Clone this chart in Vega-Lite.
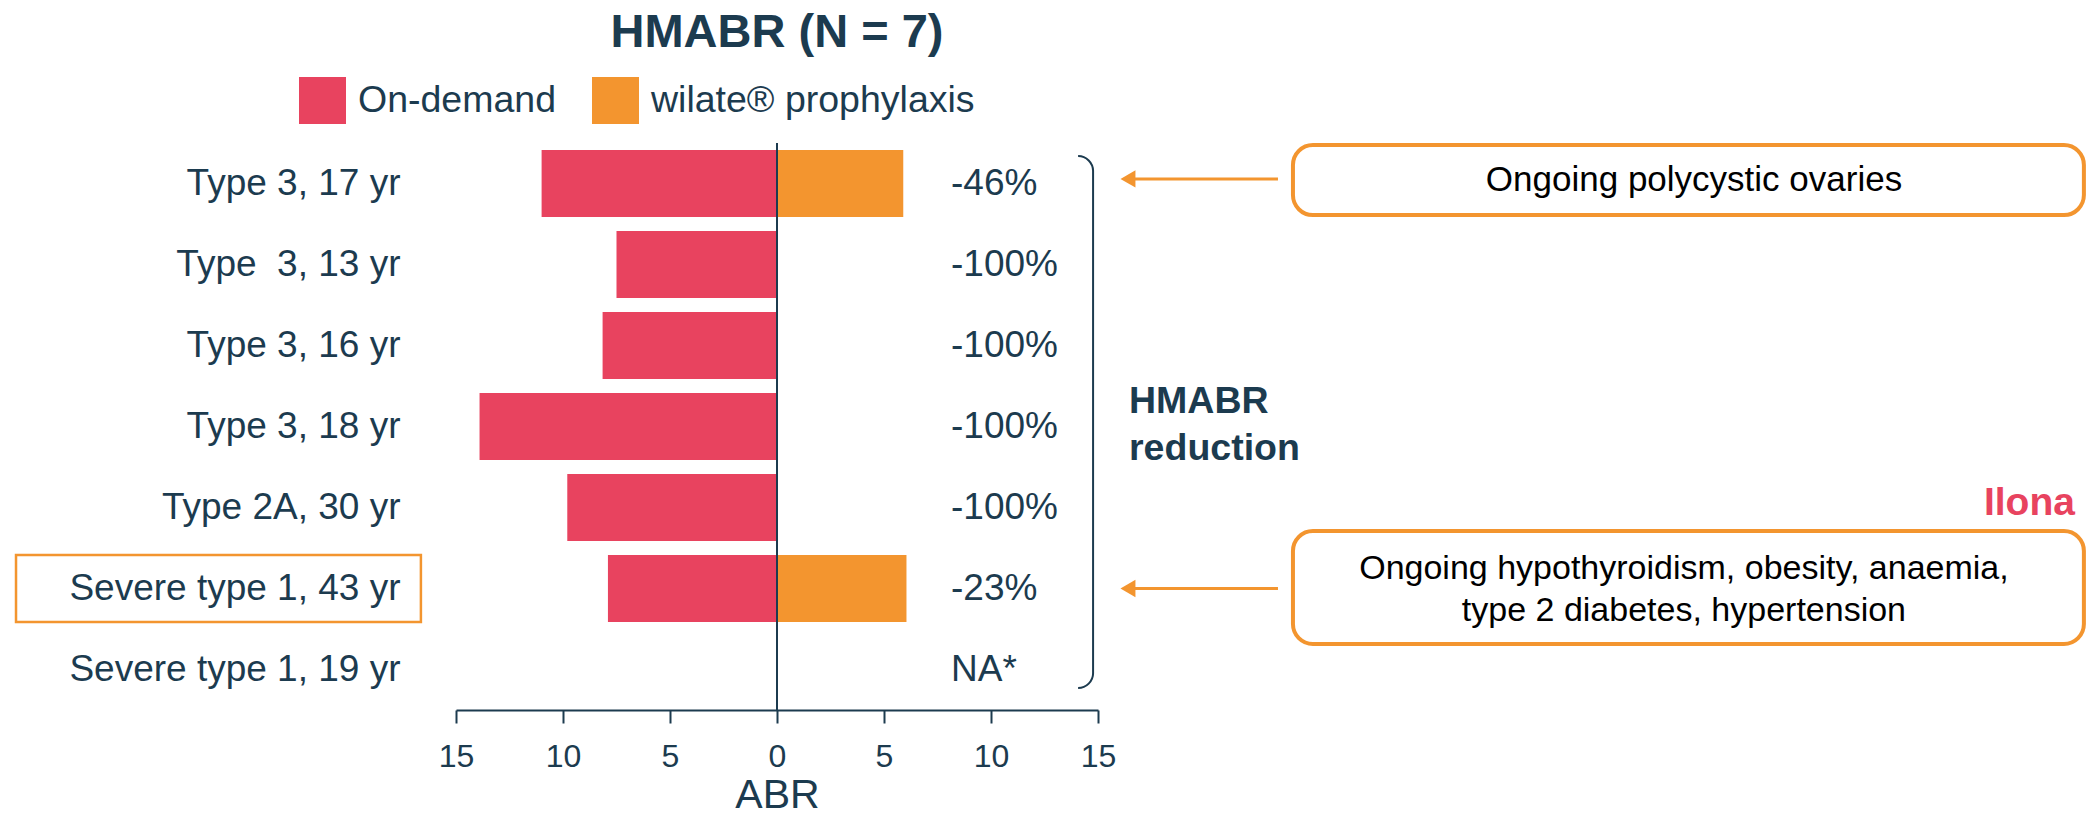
{
  "$schema": "https://vega.github.io/schema/vega-lite/v6.json",
  "width": 1632,
  "height": 567,
  "autosize": {"type": "none"},
  "padding": {"left": 456, "top": 143, "right": 0, "bottom": 106},
  "background": "#ffffff",
  "config": {"view": {"stroke": null}, "font": "Liberation Sans"},
  "title": {"text": "HMABR (N = 7)", "fontSize": 47, "fontWeight": "bold", "color": "#1C3B4F", "anchor": "middle", "dx": -495, "offset": 20},
  "datasets": {
    "bars": [
      {"patient": "Type 3, 17 yr", "treatment": "On-demand", "abr": -11.0},
      {"patient": "Type 3, 17 yr", "treatment": "wilate® prophylaxis", "abr": 5.9},
      {"patient": "Type  3, 13 yr", "treatment": "On-demand", "abr": -7.5},
      {"patient": "Type  3, 13 yr", "treatment": "wilate® prophylaxis", "abr": 0},
      {"patient": "Type 3, 16 yr", "treatment": "On-demand", "abr": -8.15},
      {"patient": "Type 3, 16 yr", "treatment": "wilate® prophylaxis", "abr": 0},
      {"patient": "Type 3, 18 yr", "treatment": "On-demand", "abr": -13.9},
      {"patient": "Type 3, 18 yr", "treatment": "wilate® prophylaxis", "abr": 0},
      {"patient": "Type 2A, 30 yr", "treatment": "On-demand", "abr": -9.8},
      {"patient": "Type 2A, 30 yr", "treatment": "wilate® prophylaxis", "abr": 0},
      {"patient": "Severe type 1, 43 yr", "treatment": "On-demand", "abr": -7.9},
      {"patient": "Severe type 1, 43 yr", "treatment": "wilate® prophylaxis", "abr": 6.05}
    ],
    "patients": [
      {"patient": "Type 3, 17 yr", "reduction": "-46%"},
      {"patient": "Type  3, 13 yr", "reduction": "-100%"},
      {"patient": "Type 3, 16 yr", "reduction": "-100%"},
      {"patient": "Type 3, 18 yr", "reduction": "-100%"},
      {"patient": "Type 2A, 30 yr", "reduction": "-100%"},
      {"patient": "Severe type 1, 43 yr", "reduction": "-23%"},
      {"patient": "Severe type 1, 19 yr", "reduction": "NA*"}
    ]
  },
  "layer": [
    {
      "layer": [
        {
          "data": {"name": "bars"},
          "mark": {"type": "bar"},
          "encoding": {
            "y": {
              "field": "patient", "type": "nominal",
              "scale": {"domain": ["Type 3, 17 yr", "Type  3, 13 yr", "Type 3, 16 yr", "Type 3, 18 yr", "Type 2A, 30 yr", "Severe type 1, 43 yr", "Severe type 1, 19 yr"], "paddingInner": 0.173, "paddingOuter": 0.0865},
              "axis": {"title": null, "ticks": false, "domain": false, "labelFontSize": 37, "labelColor": "#1C3B4F", "labelPadding": 56, "labelLimit": 600, "labelExpr": "replace(datum.label, '  ', ' \u00a0')"}
            },
            "x": {
              "field": "abr", "type": "quantitative",
              "scale": {"domain": [-15, 15], "range": [0, 642], "nice": false, "zero": false},
              "axis": {"values": [-15, -10, -5, 0, 5, 10, 15], "labelExpr": "abs(datum.value)", "grid": false, "tickSize": 13, "tickWidth": 2, "tickColor": "#1C3B4F", "domainColor": "#1C3B4F", "domainWidth": 2, "labelFontSize": 32, "labelColor": "#1C3B4F", "labelPadding": 18, "labelFlush": false, "labelOverlap": false, "title": "ABR", "titleFontSize": 41, "titleFontWeight": "normal", "titleColor": "#1C3B4F", "titlePadding": 3}
            },
            "color": {
              "field": "treatment", "type": "nominal",
              "scale": {"domain": ["On-demand", "wilate® prophylaxis"], "range": ["#E8435F", "#F3952F"]},
              "legend": {"orient": "none", "legendX": -157, "legendY": -66, "direction": "horizontal", "title": null, "symbolType": "square", "symbolSize": 2209, "symbolStrokeWidth": 0, "labelFontSize": 37.5, "labelColor": "#1C3B4F", "labelOffset": 12, "columnPadding": 35, "padding": 0, "labelLimit": 600}
            }
          }
        },
        {
          "data": {"values": [{}]},
          "mark": {"type": "rule", "color": "#1C3B4F", "strokeWidth": 2},
          "encoding": {"x": {"datum": 0, "type": "quantitative"}}
        },
        {
          "data": {"name": "patients"},
          "mark": {"type": "text", "align": "left", "baseline": "middle", "fontSize": 37, "color": "#1C3B4F"},
          "encoding": {
            "y": {"field": "patient", "type": "nominal"},
            "x": {"datum": 8.13, "type": "quantitative"},
            "text": {"field": "reduction"}
          }
        },
        {
          "data": {"values": [{}]},
          "mark": {"type": "rect", "fill": "transparent", "stroke": "#F3952F", "strokeWidth": 2.5, "clip": false},
          "encoding": {
            "y": {"datum": "Severe type 1, 43 yr", "type": "nominal"},
            "x": {"datum": -35.56, "type": "quantitative"},
            "x2": {"datum": -16.64}
          }
        }
      ]
    },
    {
      "layer": [
        {
          "data": {"values": [{}]},
          "mark": {"type": "rule", "color": "#1C3B4F", "strokeWidth": 2},
          "encoding": {
            "x": {"datum": 14.77, "type": "quantitative"},
            "y": {"datum": 0.346, "type": "quantitative", "scale": {"domain": [0, 7], "reverse": true, "nice": false, "zero": false}, "axis": null},
            "y2": {"datum": 6.543}
          }
        },
        {
          "data": {"values": [{}]},
          "mark": {"type": "arc", "radius": 16, "radius2": 14, "theta": 0, "theta2": 1.5708, "color": "#1C3B4F"},
          "encoding": {
            "x": {"datum": 14.07, "type": "quantitative"},
            "y": {"datum": 0.346, "type": "quantitative"}
          }
        },
        {
          "data": {"values": [{}]},
          "mark": {"type": "arc", "radius": 16, "radius2": 14, "theta": 1.5708, "theta2": 3.1416, "color": "#1C3B4F"},
          "encoding": {
            "x": {"datum": 14.07, "type": "quantitative"},
            "y": {"datum": 6.543, "type": "quantitative"}
          }
        },
        {
          "data": {"values": [{}]},
          "mark": {"type": "text", "align": "left", "baseline": "middle", "fontSize": 37.5, "fontWeight": "bold", "color": "#1C3B4F", "lineHeight": 47},
          "encoding": {
            "x": {"datum": 16.45, "type": "quantitative"},
            "y": {"datum": 3.2, "type": "quantitative"},
            "text": {"value": ["HMABR", "reduction"]}
          }
        },
        {
          "data": {"values": [{}]},
          "mark": {"type": "rule", "color": "#F3952F", "strokeWidth": 3},
          "encoding": {
            "x": {"datum": 16.7, "type": "quantitative"},
            "x2": {"datum": 23.41},
            "y": {"datum": 0.444, "type": "quantitative"}
          }
        },
        {
          "data": {"values": [{}]},
          "mark": {"type": "rule", "color": "#F3952F", "strokeWidth": 3},
          "encoding": {
            "x": {"datum": 16.7, "type": "quantitative"},
            "x2": {"datum": 23.41},
            "y": {"datum": 5.5, "type": "quantitative"}
          }
        },
        {
          "data": {"values": [{}]},
          "mark": {"type": "point", "shape": "triangle-left", "filled": true, "size": 300, "color": "#F3952F", "opacity": 1},
          "encoding": {
            "x": {"datum": 16.4, "type": "quantitative"},
            "y": {"datum": 0.444, "type": "quantitative"}
          }
        },
        {
          "data": {"values": [{}]},
          "mark": {"type": "point", "shape": "triangle-left", "filled": true, "size": 300, "color": "#F3952F", "opacity": 1},
          "encoding": {
            "x": {"datum": 16.4, "type": "quantitative"},
            "y": {"datum": 5.5, "type": "quantitative"}
          }
        },
        {
          "data": {"values": [{}]},
          "mark": {"type": "rect", "fill": "#ffffff", "stroke": "#F3952F", "strokeWidth": 4, "cornerRadius": 20},
          "encoding": {
            "x": {"datum": 24.11, "type": "quantitative"},
            "x2": {"datum": 61.07},
            "y": {"datum": 0.025, "type": "quantitative"},
            "y2": {"datum": 0.89}
          }
        },
        {
          "data": {"values": [{}]},
          "mark": {"type": "rect", "fill": "#ffffff", "stroke": "#F3952F", "strokeWidth": 4, "cornerRadius": 20},
          "encoding": {
            "x": {"datum": 24.11, "type": "quantitative"},
            "x2": {"datum": 61.07},
            "y": {"datum": 4.79, "type": "quantitative"},
            "y2": {"datum": 6.185}
          }
        },
        {
          "data": {"values": [{}]},
          "mark": {"type": "text", "align": "center", "baseline": "middle", "fontSize": 35, "color": "#000000"},
          "encoding": {
            "x": {"datum": 42.85, "type": "quantitative"},
            "y": {"datum": 0.457, "type": "quantitative"},
            "text": {"value": "Ongoing polycystic ovaries"}
          }
        },
        {
          "data": {"values": [{}]},
          "mark": {"type": "text", "align": "center", "baseline": "middle", "fontSize": 34, "color": "#000000", "lineHeight": 42},
          "encoding": {
            "x": {"datum": 42.38, "type": "quantitative"},
            "y": {"datum": 5.26, "type": "quantitative"},
            "text": {"value": ["Ongoing hypothyroidism, obesity, anaemia,", "type 2 diabetes, hypertension"]}
          }
        },
        {
          "data": {"values": [{}]},
          "mark": {"type": "text", "align": "right", "baseline": "alphabetic", "fontSize": 39, "fontWeight": "bold", "color": "#E8435F"},
          "encoding": {
            "x": {"datum": 60.65, "type": "quantitative"},
            "y": {"datum": 4.593, "type": "quantitative"},
            "text": {"value": "Ilona"}
          }
        }
      ]
    }
  ],
  "resolve": {"scale": {"y": "independent"}, "axis": {"y": "independent"}}
}
